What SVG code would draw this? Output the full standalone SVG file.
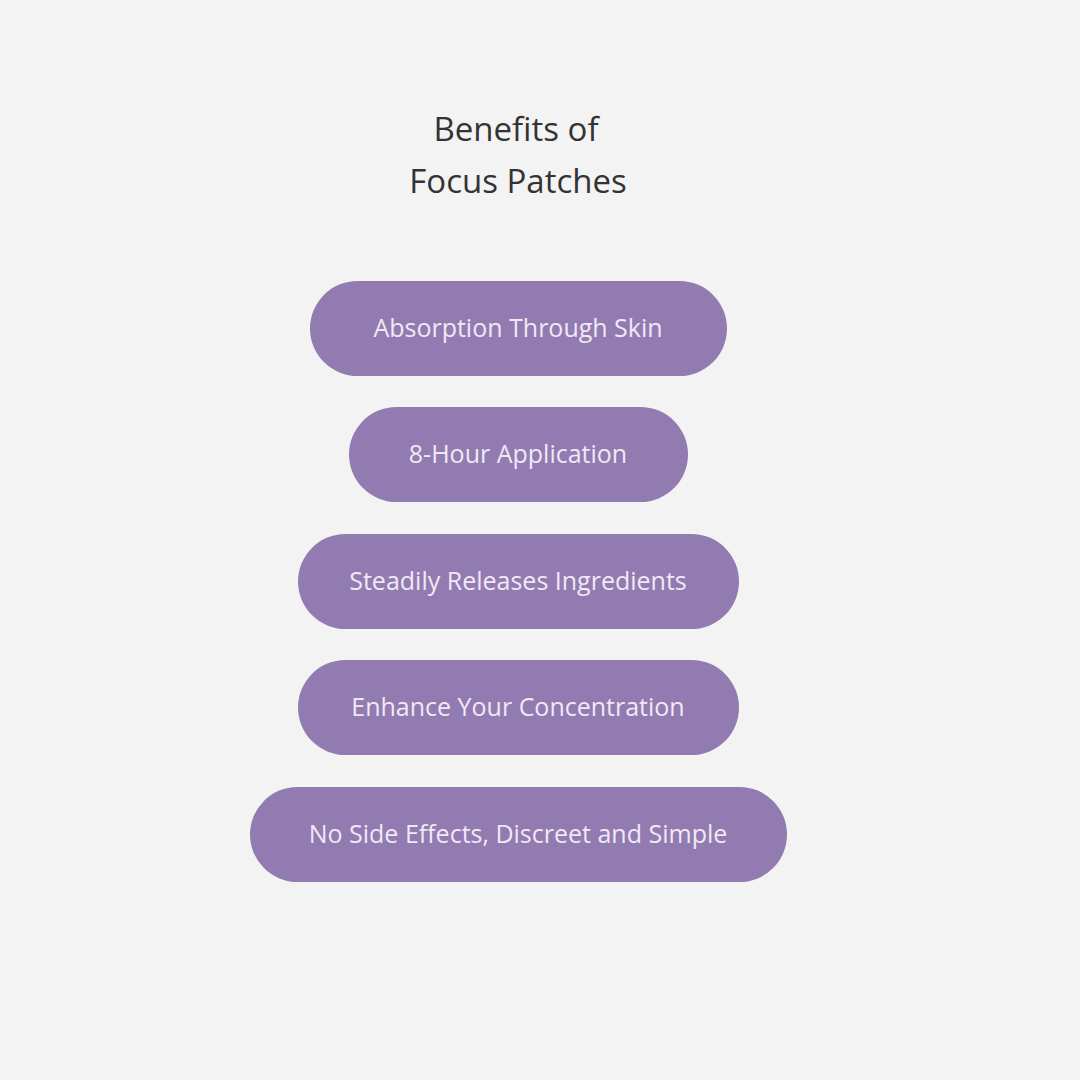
<svg xmlns="http://www.w3.org/2000/svg" width="1080" height="1080" viewBox="0 0 1080 1080">
<style>
.pill{fill:#927bb0}
.t{font-family:"Open Sans","Liberation Sans",sans-serif;font-size:25px;fill:#f1e8f6;text-anchor:middle}
.title{font-family:"Open Sans","Liberation Sans",sans-serif;font-size:33px;fill:#333333;text-anchor:middle}
</style>
<rect width="1080" height="1080" fill="#f3f3f3"/>
<g id="title"><text class="title" x="516" y="141">Benefits of</text><text class="title" x="518" y="193">Focus Patches</text></g>
<g id="n1"><rect class="pill" x="310" y="281" width="417" height="95" rx="47.5"/><text class="t" x="518" y="337">Absorption Through Skin</text></g>
<g id="n2"><rect class="pill" x="349" y="407" width="339" height="95" rx="47.5"/><text class="t" x="518" y="463">8-Hour Application</text></g>
<g id="n3"><rect class="pill" x="298" y="534" width="441" height="95" rx="47.5"/><text class="t" x="518" y="590">Steadily Releases Ingredients</text></g>
<g id="n4"><rect class="pill" x="298" y="660" width="441" height="95" rx="47.5"/><text class="t" x="518" y="716">Enhance Your Concentration</text></g>
<g id="n5"><rect class="pill" x="250" y="787" width="537" height="95" rx="47.5"/><text class="t" x="518" y="843">No Side Effects, Discreet and Simple</text></g>
<g id="connectors"/>
</svg>
